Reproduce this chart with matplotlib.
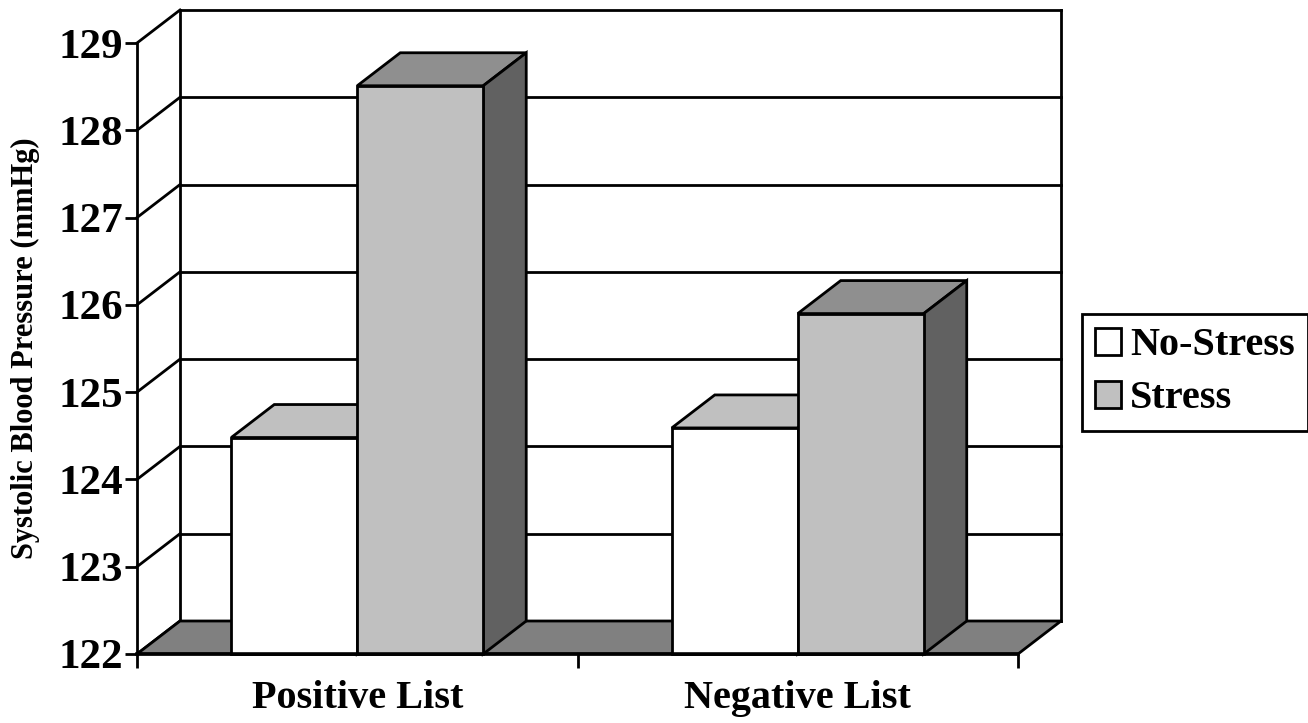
import matplotlib
matplotlib.use("Agg")
import matplotlib.pyplot as plt
from matplotlib.patches import Polygon, Patch

plt.rcParams['font.family'] = ['Liberation Serif', 'DejaVu Serif']
plt.rcParams['font.weight'] = 'bold'

# mean systolic pressure per word list
categories = ["Positive List", "Negative List"]
series = ["No-Stress", "Stress"]
no_stress = [124.48, 124.59]
stress = [128.51, 125.90]
y_ticks = [122, 123, 124, 125, 126, 127, 128, 129]

fig = plt.figure(figsize=(13.08, 7.23), dpi=100)
# front plane of the 3d box
ax = fig.add_axes([137/1308, 69/723, 881/1308, 611/723])
ax.set_xlim(0, 2)
ax.set_ylim(122, 129)

# depth offset of the back wall, in data units
dx = 43 / (881 / 2)
dy = 33 / (611 / 7)
lw = 2.0
ymin, ymax = 122, 129

# back wall gridlines and frame
for v in y_ticks:
    ax.plot([dx, 2 + dx], [v + dy, v + dy], color='black', lw=lw, clip_on=False, zorder=1)
    ax.plot([0, dx], [v, v + dy], color='black', lw=lw, clip_on=False, zorder=1)
ax.plot([dx, dx], [ymin + dy, ymax + dy], color='black', lw=lw, clip_on=False, zorder=1)
ax.plot([2 + dx, 2 + dx], [ymin + dy, ymax + dy], color='black', lw=lw, clip_on=False, zorder=1)

# floor
floor = Polygon([(0, ymin), (2, ymin), (2 + dx, ymin + dy), (dx, ymin + dy)],
                closed=True, facecolor='#808080', edgecolor='black', lw=lw,
                clip_on=False, zorder=2)
ax.add_patch(floor)

width = 0.286
styles = [
    dict(front='white', top='#c0c0c0', side='#808080'),
    dict(front='#c0c0c0', top='#8f8f8f', side='#616161'),
]

z = 3
for i in range(len(categories)):
    for j, vals in enumerate([no_stress, stress]):
        st = styles[j]
        xc = i + 0.5 + (j - 0.5) * width
        x0, x1 = xc - width / 2, xc + width / 2
        v = vals[i]
        top = Polygon([(x0, v), (x1, v), (x1 + dx, v + dy), (x0 + dx, v + dy)],
                      closed=True, facecolor=st['top'], edgecolor='black', lw=lw,
                      clip_on=False, zorder=z)
        side = Polygon([(x1, ymin), (x1, v), (x1 + dx, v + dy), (x1 + dx, ymin + dy)],
                       closed=True, facecolor=st['side'], edgecolor='black', lw=lw,
                       clip_on=False, zorder=z)
        ax.add_patch(top)
        ax.add_patch(side)
        ax.bar(xc, v - ymin, bottom=ymin, width=width, color=st['front'],
               edgecolor='black', linewidth=lw, clip_on=False, zorder=z + 0.5)
        z += 1

# axes lines
for s in ['top', 'right']:
    ax.spines[s].set_visible(False)
ax.spines['left'].set_linewidth(lw)
ax.spines['bottom'].set_linewidth(2.6)
ax.spines['left'].set_zorder(20)
ax.spines['bottom'].set_zorder(20)

ax.set_yticks(y_ticks)
ax.set_yticklabels([str(t) for t in y_ticks], fontsize=31, fontweight='bold')
ax.tick_params(axis='y', length=9, width=lw, pad=1)

ax.set_xticks([0.5, 1.5])
ax.set_xticklabels(categories, fontsize=29, fontweight='bold')
ax.set_xticks([0, 1, 2], minor=True)
ax.tick_params(axis='x', which='major', length=0, pad=19)
ax.tick_params(axis='x', which='minor', length=10, width=lw)

ax.set_ylabel("Systolic Blood Pressure (mmHg)", fontsize=22, fontweight='bold', labelpad=13)
ax.set_facecolor('none')

handles = [Patch(facecolor='white', edgecolor='black', lw=lw),
           Patch(facecolor='#c0c0c0', edgecolor='black', lw=lw)]
leg = fig.legend(handles, series, loc='upper left',
                 bbox_to_anchor=(1082/1308, 1 - 314/723),
                 prop={'family': 'Liberation Serif', 'weight': 'bold', 'size': 29},
                 fancybox=False, edgecolor='black', framealpha=1,
                 handlelength=0.65, handleheight=0.65, handletextpad=0.22,
                 labelspacing=0.4, borderpad=0.33, borderaxespad=0)
leg.get_frame().set_linewidth(lw)

fig.savefig("out.png", dpi=100)
